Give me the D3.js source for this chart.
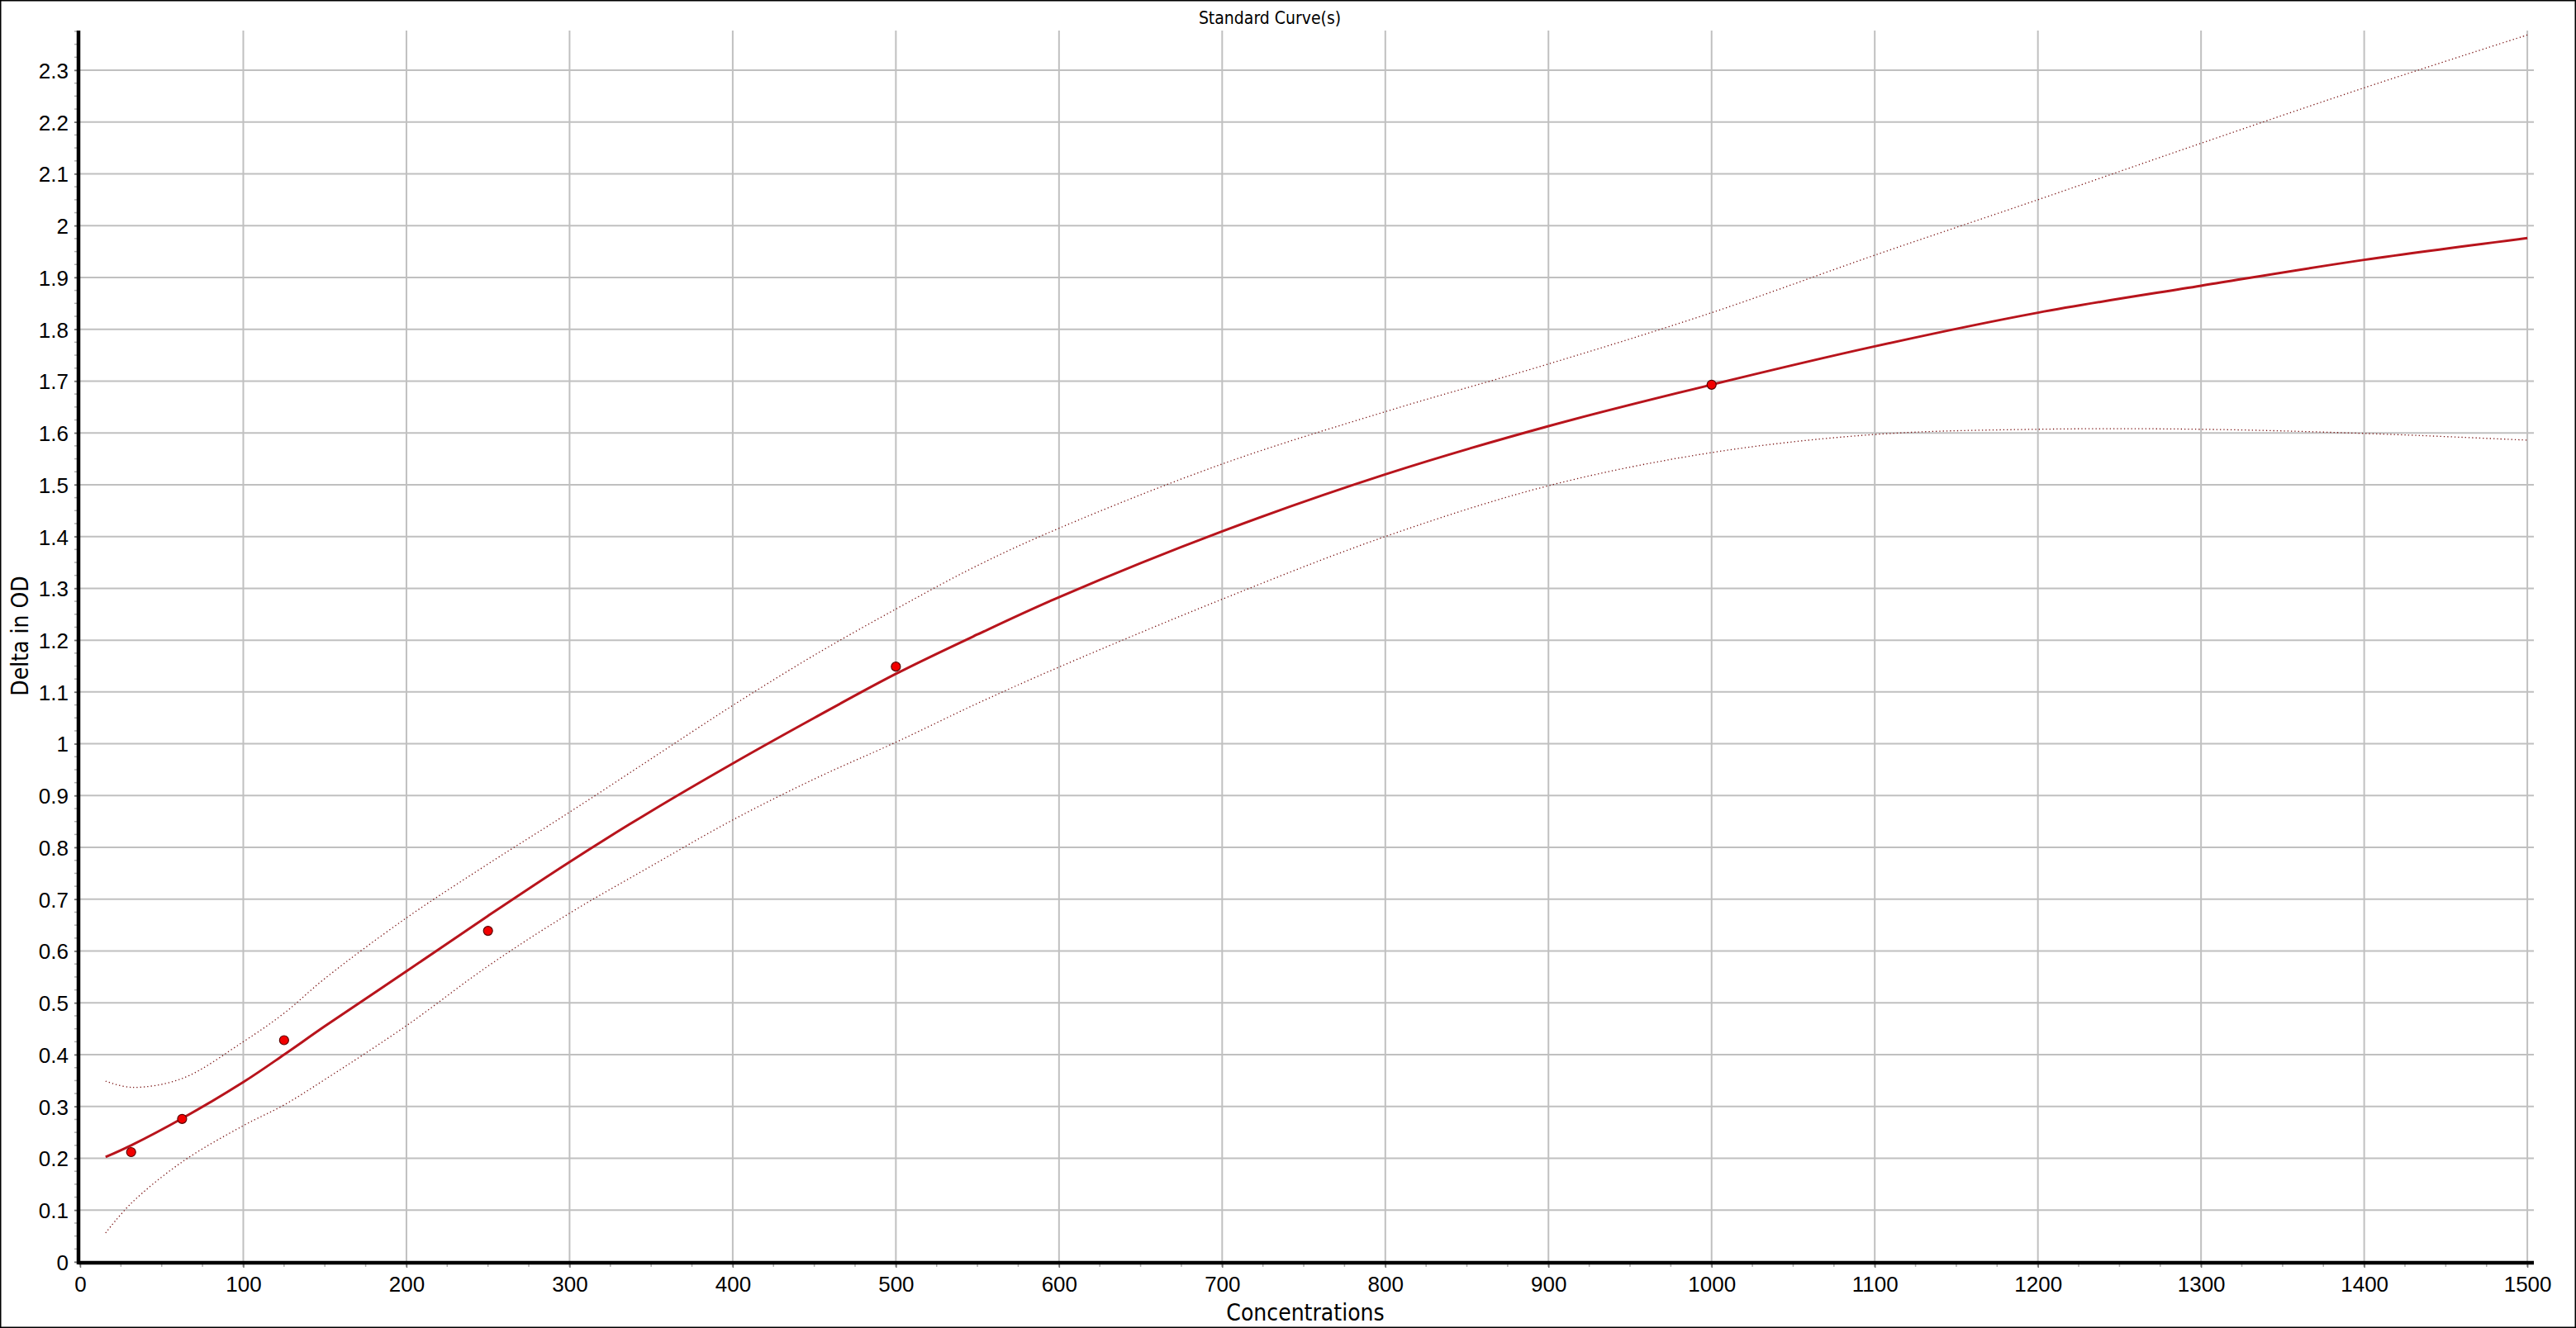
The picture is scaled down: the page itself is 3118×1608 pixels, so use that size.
<!DOCTYPE html>
<html>
<head>
<meta charset="utf-8">
<script src="https://cdn.jsdelivr.net/npm/d3@7"></script>
<style>
  body { margin: 0; background: #fff; overflow: hidden; }
  svg { display: block; font-family: "DejaVu Sans Condensed", "DejaVu Sans", sans-serif; font-stretch: condensed; }
</style>
</head>
<body>
<svg id="chart"></svg>
<script>
var svgWidth = 3118;
var svgHeight = 1608;
var margin = { top: 37, right: 51, bottom: 80, left: 97 };
var width = svgWidth - margin.left - margin.right;
var height = svgHeight - margin.top - margin.bottom;

// standards (measured)
var stdConc = [31.25, 62.5, 125, 250, 500, 1000];
var stdOD = [0.212, 0.276, 0.428, 0.639, 1.149, 1.693];

// fitted curve and confidence band
var curveConc = [15.6, 31.25, 62.5, 100, 125, 150, 200, 250, 300, 350, 400, 450, 500, 550, 600, 700, 800, 900, 1000, 1100, 1200, 1300, 1400, 1500];
var fitOD = [0.2025, 0.225, 0.277, 0.347, 0.400, 0.455, 0.561, 0.668, 0.772, 0.870, 0.962, 1.050, 1.135, 1.211, 1.283, 1.410, 1.520, 1.613, 1.693, 1.767, 1.832, 1.884, 1.934, 1.976];
var upperOD = [0.349, 0.337, 0.354, 0.425, 0.480, 0.547, 0.664, 0.768, 0.868, 0.971, 1.074, 1.171, 1.260, 1.344, 1.416, 1.540, 1.641, 1.733, 1.832, 1.943, 2.050, 2.159, 2.266, 2.368];
var lowerOD = [0.056, 0.113, 0.193, 0.263, 0.303, 0.352, 0.456, 0.571, 0.673, 0.764, 0.853, 0.932, 1.003, 1.078, 1.148, 1.279, 1.400, 1.498, 1.562, 1.597, 1.607, 1.607, 1.599, 1.586];

var xTicks = d3.range(0, 1501, 100);
var yTicks = d3.range(0, 24).map(d => +(d / 10).toFixed(1));
var xMinor = d3.range(0, 1501, 25);
var yMinor = d3.range(0, 96).map(d => d * 0.025);

var svg = d3.select("#chart")
  .attr("width", svgWidth)
  .attr("height", svgHeight);

// outer frame
svg.append("rect")
  .attr("x", 0.75).attr("y", 0.75)
  .attr("width", svgWidth - 1.5).attr("height", svgHeight - 1.5)
  .attr("fill", "#fff").attr("stroke", "#000").attr("stroke-width", 1.5);

var chart = svg.append("g")
  .attr("transform", `translate(${margin.left},${margin.top})`);

var x = d3.scaleLinear().domain([0, 1504]).range([0, width]);
var y = d3.scaleLinear().domain([0, 2.3765]).range([height, 0]);

// grid
chart.append("g")
  .selectAll("line.vgrid")
  .data(xTicks.slice(1))
  .join("line")
    .attr("x1", d => x(d)).attr("x2", d => x(d))
    .attr("y1", 0).attr("y2", height + 6)
    .attr("stroke", "#c0c0c0").attr("stroke-width", 2);

chart.append("g")
  .selectAll("line.hgrid")
  .data(yTicks.slice(1))
  .join("line")
    .attr("x1", 0).attr("x2", width)
    .attr("y1", d => y(d)).attr("y2", d => y(d))
    .attr("stroke", "#c0c0c0").attr("stroke-width", 2);

// minor ticks
chart.append("g")
  .selectAll("line")
  .data(xMinor)
  .join("line")
    .attr("x1", d => x(d)).attr("x2", d => x(d))
    .attr("y1", height).attr("y2", height + 6)
    .attr("stroke", "#b0b0b0").attr("stroke-width", 1.5);

chart.append("g")
  .selectAll("line")
  .data(yMinor)
  .join("line")
    .attr("x1", -7).attr("x2", 0)
    .attr("y1", d => y(d)).attr("y2", d => y(d))
    .attr("stroke", "#b0b0b0").attr("stroke-width", 1.5);

// axes
var xAxis = d3.axisBottom(x).tickValues(xTicks).tickSize(7).tickPadding(10).tickFormat(d3.format("d"));
var yAxis = d3.axisLeft(y).tickValues(yTicks).tickSize(7).tickPadding(7).tickFormat(d => d3.format("")(d));

var gx = chart.append("g").attr("transform", `translate(0,${height})`).call(xAxis);
var gy = chart.append("g").call(yAxis);

[gx, gy].forEach(g => {
  g.select(".domain").remove();
  g.selectAll(".tick line").attr("stroke", "#707070").attr("stroke-width", 1.5);
  g.selectAll(".tick text").attr("fill", "#000").style("font-size", "26px");
});
gx.selectAll(".tick text").attr("dy", "0.72em");
gy.selectAll(".tick text").attr("dy", "0.36em");

chart.append("line")
  .attr("x1", -2).attr("x2", width)
  .attr("y1", height + 1).attr("y2", height + 1)
  .attr("stroke", "#000").attr("stroke-width", 4.5);

chart.append("line")
  .attr("x1", -2).attr("x2", -2)
  .attr("y1", 0).attr("y2", height + 3)
  .attr("stroke", "#000").attr("stroke-width", 4.5);

// curves
var line = d3.line()
  .x(d => x(d[0]))
  .y(d => y(d[1]))
  .curve(d3.curveCatmullRom.alpha(0.5));

chart.append("path")
  .datum(d3.zip(curveConc, upperOD))
  .attr("fill", "none")
  .attr("stroke", "#7a1414")
  .attr("stroke-width", 1.3)
  .attr("stroke-dasharray", "1.3,3")
  .attr("d", line);

chart.append("path")
  .datum(d3.zip(curveConc, lowerOD))
  .attr("fill", "none")
  .attr("stroke", "#7a1414")
  .attr("stroke-width", 1.3)
  .attr("stroke-dasharray", "1.3,3")
  .attr("d", line);

chart.append("path")
  .datum(d3.zip(curveConc, fitOD))
  .attr("fill", "none")
  .attr("stroke", "#b8141c")
  .attr("stroke-width", 3)
  .attr("d", line);

chart.append("g")
  .selectAll("circle")
  .data(d3.zip(stdConc, stdOD))
  .join("circle")
    .attr("cx", d => x(d[0]))
    .attr("cy", d => y(d[1]))
    .attr("r", 5.5)
    .attr("fill", "#f20000")
    .attr("stroke", "#5a0000")
    .attr("stroke-width", 1.2);

// titles
svg.append("text")
  .attr("x", 1537).attr("y", 29)
  .attr("text-anchor", "middle")
  .style("font-size", "21px")
  .text("Standard Curve(s)");

svg.append("text")
  .attr("x", 1580).attr("y", 1599)
  .attr("text-anchor", "middle")
  .style("font-size", "28px")
  .text("Concentrations");

svg.append("text")
  .attr("transform", "translate(34,770) rotate(-90)")
  .attr("text-anchor", "middle")
  .style("font-size", "28px")
  .text("Delta in OD");
</script>
</body>
</html>
